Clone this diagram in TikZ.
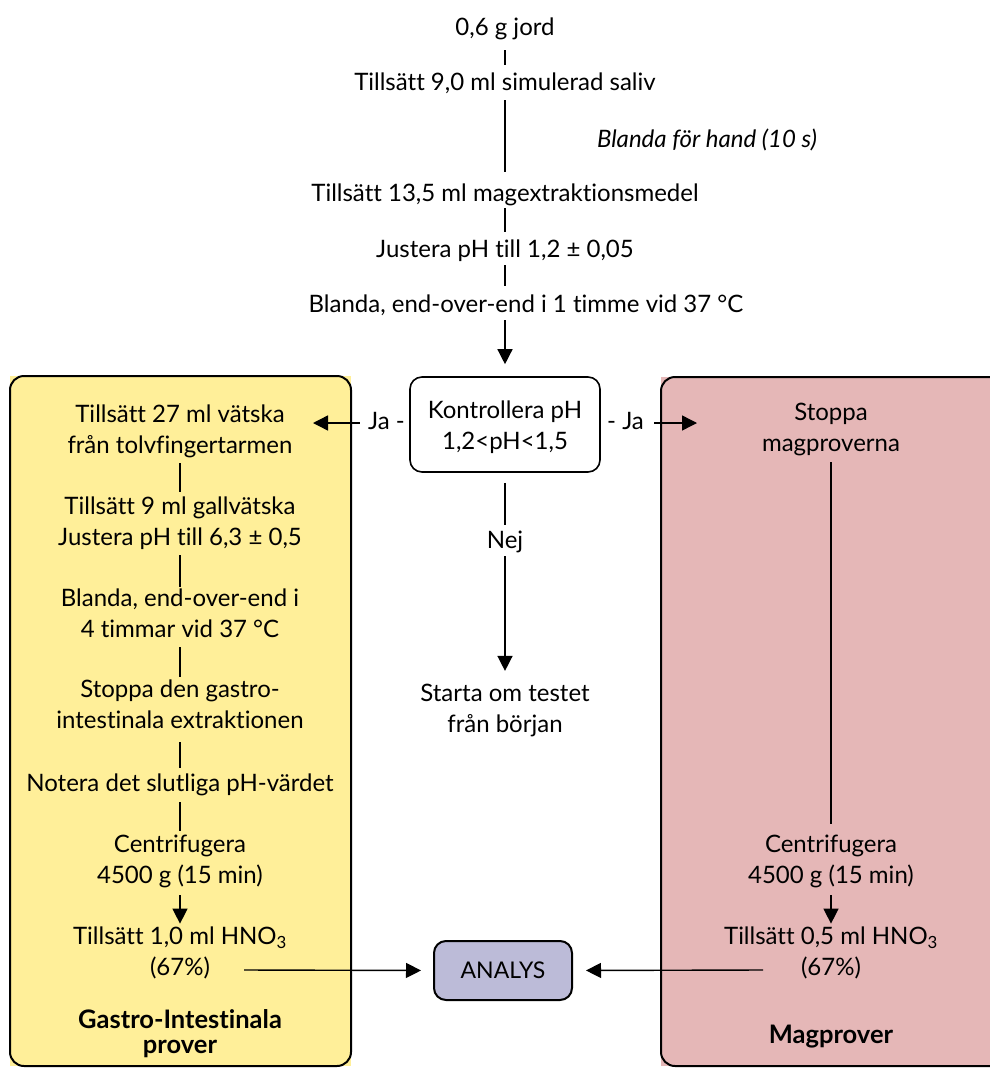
\documentclass[tikz,border=0pt]{standalone}
\usepackage{fontspec}
\setmainfont{Lato}[Ligatures=NoCommon]
\usetikzlibrary{arrows.meta}
\definecolor{gyellow}{RGB}{255,239,153}
\definecolor{mpink}{RGB}{229,183,183}
\definecolor{alav}{RGB}{188,187,216}
\newcommand{\mys}{\rule[-7pt]{0pt}{26pt}}
\begin{document}
\begin{tikzpicture}[x=1pt,y=-1pt,
  txt/.style={align=center,font=\fontsize{24}{30.5}\selectfont,inner sep=0pt,anchor=base,
    execute at begin node=\mys, execute at end node=\mys},
  bold/.style={txt,font=\fontsize{25.5}{25}\selectfont\bfseries},
  conn/.style={line width=1.4pt},
  arr/.style={conn,-{Triangle[length=15pt,width=15pt]}},
  panel/.style={draw,line width=2pt,rounded corners=14pt},
  box/.style={draw,rounded corners=12pt,align=center,font=\fontsize{24}{31}\selectfont,inner sep=0pt}]
\useasboundingbox (0,0) rectangle (989,1068);
% panels
\fill[gyellow] (10,376) rectangle (351,1066);
\draw[panel] (10,376) rectangle (351,1066);
\fill[mpink] (661,377) rectangle (1010,1066);
\draw[panel] (661,377) rectangle (1010,1066);
% top chain
\node[txt] (n1) at (505,35) {0,6 g jord};
\node[txt] (n2) at (505,90) {Tillsätt 9,0 ml simulerad saliv};
\node[txt,font=\fontsize{24}{30}\selectfont\itshape] (hand) at (707,147) {Blanda för hand (10 s)};
\node[txt] (n3) at (505,201) {Tillsätt 13,5 ml magextraktionsmedel};
\node[txt] (n4) at (505,257) {Justera pH till 1,2 ± 0,05};
\node[txt] (n5) at (526,312) {Blanda, end-over-end i 1 timme vid 37 °C};
\node[box,line width=1.6pt,minimum width=190pt,minimum height=95pt] (check) at (505,424.5) {\rule{0pt}{23pt}Kontrollera pH\\1,2<pH<1,5\rule[-5pt]{0pt}{0pt}};
\node[txt,anchor=base east] (jaL) at (405,429) {Ja -};
\node[txt,anchor=base west] (jaR) at (607,429) {- Ja};
\coordinate (jaLtip) at (313,423);
\coordinate (jaRtip) at (697,423);
\node[txt] (nej) at (505,548) {Nej};
\node[txt] (starta) at (505,732) {Starta om testet\\från början};
% yellow
\node[txt] (y1) at (180,453) {Tillsätt 27 ml vätska\\från tolvfingertarmen};
\node[txt] (y2) at (180,545) {Tillsätt 9 ml gallvätska\\Justera pH till 6,3 ± 0,5};
\node[txt] (y3) at (180,637) {Blanda, end-over-end i\\4 timmar vid 37 °C};
\node[txt] (y4) at (180,728) {Stoppa den gastro-\\intestinala extraktionen};
\node[txt] (y5) at (180,791) {Notera det slutliga pH-värdet};
\node[txt] (y6) at (180,883) {Centrifugera\\4500 g (15 min)};
\node[txt] (y7) at (180,975) {Tillsätt 1,0 ml HNO\textsubscript{3}\\(67\%)};
\node[bold] (y8) at (180,1053) {Gastro-Intestinala\\prover};
\coordinate (y7out) at (244,970);
% pink
\node[txt] (m1) at (831,451) {Stoppa\\magproverna};
\node[txt] (m2) at (831,883) {Centrifugera\\4500 g (15 min)};
\node[txt] (m3) at (831,975) {Tillsätt 0,5 ml HNO\textsubscript{3}\\(67\%)};
\node[bold] (m4) at (831,1043) {Magprover};
\coordinate (m3out) at (763,970);
% analys
\node[box,fill=alav,line width=2pt,minimum width=138pt,minimum height=59pt,font=\fontsize{23}{25}\selectfont] (analys) at (503,970.5) {ANALYS};
% connectors
\draw[conn,shorten <=8pt,shorten >=6pt] (n1.south) -- (n1.south |- n2.north);
\draw[conn,shorten <=3pt,shorten >=10pt] (n2.south) -- (n2.south |- n3.north);
\draw[conn,shorten <=0pt,shorten >=6pt] (n3.south) -- (n3.south |- n4.north);
\draw[conn,shorten <=1pt,shorten >=7pt] (n4.south) -- (n4.south |- n5.north);
\draw[arr,shorten <=1pt,shorten >=12pt] (n4.south |- n5.south) -- (check.north);
\draw[arr,shorten <=8pt] (jaL.west) -- (jaLtip);
\draw[arr,shorten <=10pt] (jaR.east) -- (jaRtip);
\draw[conn,shorten <=10pt,shorten >=4pt] (check.south) -- (nej.north);
\draw[arr,shorten <=1pt,shorten >=13pt] (nej.south) -- (starta.north);
\draw[conn,shorten <=3pt,shorten >=5pt] (y1.south) -- (y2.north);
\draw[conn,shorten <=3pt,shorten >=2pt] (y2.south) -- (y3.north);
\draw[conn,shorten <=3pt,shorten >=3pt] (y3.south) -- (y4.north);
\draw[conn,shorten <=7pt,shorten >=4pt] (y4.south) -- (y5.north);
\draw[conn,shorten <=4pt,shorten >=4pt] (y5.south) -- (y6.north);
\draw[arr,shorten <=5pt,shorten >=3pt] (y6.south) -- (y7.north);
\draw[arr,shorten >=12pt] (y7out) -- (analys.west);
\draw[conn,shorten <=4pt,shorten >=11pt] (m1.south) -- (m2.north);
\draw[arr,shorten <=5pt,shorten >=3pt] (m2.south) -- (m3.north);
\draw[arr,shorten >=13pt] (m3out) -- (analys.east);
\end{tikzpicture}
\end{document}
